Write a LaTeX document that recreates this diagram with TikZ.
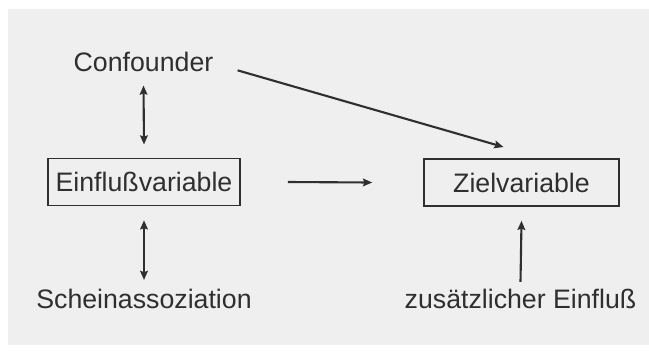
\documentclass[tikz,border=0pt]{standalone}
\usepackage{fontspec}
\setmainfont{Liberation Sans}
\usetikzlibrary{arrows.meta, positioning}
\definecolor{ink}{HTML}{2F2F2F}
\definecolor{paper}{HTML}{EFEFEF}
\tikzstyle{word} = [inner sep=0, text=ink, font=\fontsize{19}{22}\selectfont]
\tikzstyle{var} = [rectangle, draw=ink, line width=1pt, minimum height=1.18cm, text=ink, font=\fontsize{19}{22}\selectfont]
\tikzstyle{arrow} = [draw=ink, line width=1.5pt, ->, >={Stealth[length=6.5pt,width=5.5pt,inset=1pt]}]
\tikzstyle{both} = [arrow, <->]

\begin{document}
\begin{tikzpicture}[x=0.025cm, y=-0.025cm]
\useasboundingbox (0,0) rectangle (649,358);
\fill[paper] (8,9) rectangle (649,345);

\node[word, anchor=base] (conf) at (143.5,71) {Confounder};
\node[var, minimum width=4.8cm] (einfl) at (144,182) {Einflußvariable};
\node[var, minimum width=4.87cm] (ziel) at (521.5,182.5) {Zielvariable};
\node[word, anchor=base] (schein) at (144,308) {Scheinassoziation};
\node[word, anchor=base] (zus) at (520.5,308) {zusätzlicher Einfluß};

\draw[both] ([yshift=-0.35cm]conf.south) -- ([yshift=0.33cm]einfl.north);
\draw[both] ([yshift=-0.35cm]einfl.south) -- ([yshift=0.21cm]schein.north);
\draw[arrow] ([xshift=1.18cm]einfl.east) -- ([xshift=-1.28cm]ziel.west);
\draw[arrow] ([yshift=0.16cm]zus.north) -- ([yshift=-0.35cm]ziel.south);
\draw[arrow] ([xshift=0.6cm,yshift=0.03cm]conf.south east) -- ([xshift=-0.45cm,yshift=0.28cm]ziel.north);
\end{tikzpicture}
\end{document}
